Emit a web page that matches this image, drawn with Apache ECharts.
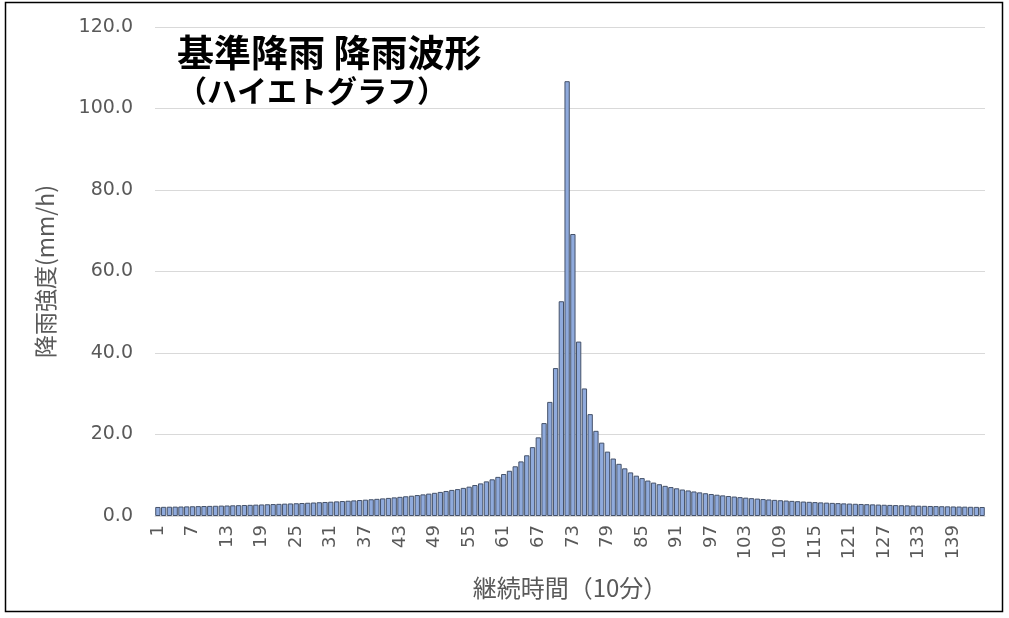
<!DOCTYPE html>
<html>
<head>
<meta charset="utf-8">
<script src="https://cdn.jsdelivr.net/npm/echarts@6/dist/echarts.min.js"></script>
<style>
  html, body { margin: 0; padding: 0; background: #fff; }
  #main { width: 1009px; height: 618px; }
</style>
</head>
<body>
<div id="main"></div>
<script>
// 継続時間（10分） 1〜144
var categories = [];
for (var i = 1; i <= 144; i++) categories.push(String(i));

// 降雨強度 前半 (1〜72)
var rainFirst = [
    2.22, 2.25, 2.28, 2.30, 2.33, 2.36, 2.39, 2.42, 2.45, 2.48,
    2.51, 2.55, 2.58, 2.62, 2.66, 2.70, 2.74, 2.79, 2.83, 2.88,
    2.93, 2.98, 3.03, 3.08, 3.13, 3.19, 3.25, 3.31, 3.38, 3.44,
    3.51, 3.59, 3.67, 3.75, 3.83, 3.92, 4.01, 4.11, 4.21, 4.32,
    4.44, 4.57, 4.70, 4.84, 4.98, 5.14, 5.31, 5.49, 5.69, 5.91,
    6.14, 6.40, 6.6, 6.9, 7.2, 7.6, 8.0, 8.5, 9.0, 9.6,
    10.3, 11.1, 12.2, 13.4, 14.9, 16.9, 19.3, 22.8, 28.0, 36.3,
    52.7, 106.7
];
// 降雨強度 後半 (73〜144)
var rainSecond = [
    69.2, 42.8, 31.3, 25.0, 20.9, 18.0, 15.8, 14.1, 12.8, 11.7,
    10.7, 9.9, 9.3, 8.7, 8.2, 7.8, 7.4, 7.1, 6.8, 6.5,
    6.27, 6.02, 5.80, 5.59, 5.40, 5.22, 5.06, 4.91, 4.77, 4.63,
    4.50, 4.38, 4.27, 4.16, 4.06, 3.96, 3.87, 3.79, 3.71, 3.63,
    3.55, 3.48, 3.41, 3.34, 3.28, 3.22, 3.16, 3.10, 3.05, 3.00,
    2.95, 2.90, 2.86, 2.81, 2.76, 2.72, 2.68, 2.64, 2.60, 2.57,
    2.53, 2.50, 2.46, 2.43, 2.40, 2.37, 2.34, 2.32, 2.29, 2.26,
    2.24, 2.21
];
var rainfall = rainFirst.concat(rainSecond);

var yTicks = [0, 20, 40, 60, 80, 100, 120];

var myChart = echarts.init(document.getElementById('main'));
var cjk = '"Noto Sans CJK JP", "Noto Sans", sans-serif';
var num = '"DejaVu Sans", sans-serif';

var option = {
    backgroundColor: '#ffffff',
    animation: false,
    title: {
        text: '{a|基準降雨 降雨波形}\n{b|（ハイエトグラフ）}',
        left: 172,
        top: 28,
        textStyle: {
            rich: {
                a: { color: '#000', fontFamily: cjk, fontWeight: 'bold', fontSize: 37, lineHeight: 40 },
                b: { color: '#000', fontFamily: cjk, fontWeight: 'bold', fontSize: 30, lineHeight: 36 }
            }
        }
    },
    graphic: [{
        type: 'rect',
        shape: { x: 5.5, y: 2.5, width: 997, height: 609 },
        style: { fill: 'none', stroke: '#000000', lineWidth: 1.5 },
        silent: true
    }],
    grid: {
        left: 155,
        right: 24,
        top: 27,
        bottom: 102
    },
    xAxis: {
        type: 'category',
        data: categories,
        name: '継続時間（10分）',
        nameLocation: 'middle',
        nameGap: 60,
        nameTextStyle: { color: '#595959', fontSize: 24, fontFamily: cjk },
        axisLine: { lineStyle: { color: '#d9d9d9' } },
        axisTick: { show: false },
        axisLabel: {
            interval: 5,
            rotate: 90,
            color: '#595959',
            fontSize: 18,
            fontFamily: num,
            margin: 9
        }
    },
    yAxis: {
        type: 'value',
        min: yTicks[0],
        max: yTicks[yTicks.length - 1],
        interval: 20,
        name: '降雨強度(mm/h)',
        nameLocation: 'middle',
        nameGap: 98,
        nameRotate: 90,
        nameTextStyle: { color: '#595959', fontSize: 23, fontFamily: cjk },
        axisLine: { show: false },
        axisTick: { show: false },
        axisLabel: {
            color: '#595959',
            fontSize: 19,
            fontFamily: num,
            margin: 22,
            formatter: function (v) { return v.toFixed(1); }
        },
        splitLine: { lineStyle: { color: '#d9d9d9', width: 1 } }
    },
    series: [{
        type: 'bar',
        data: rainfall,
        barCategoryGap: '8%',
        itemStyle: {
            color: '#8faadc',
            borderColor: '#45526a',
            borderWidth: 1
        }
    }]
};

myChart.setOption(option);
window.addEventListener('resize', function () {
    myChart.resize();
});
</script>
</body>
</html>
